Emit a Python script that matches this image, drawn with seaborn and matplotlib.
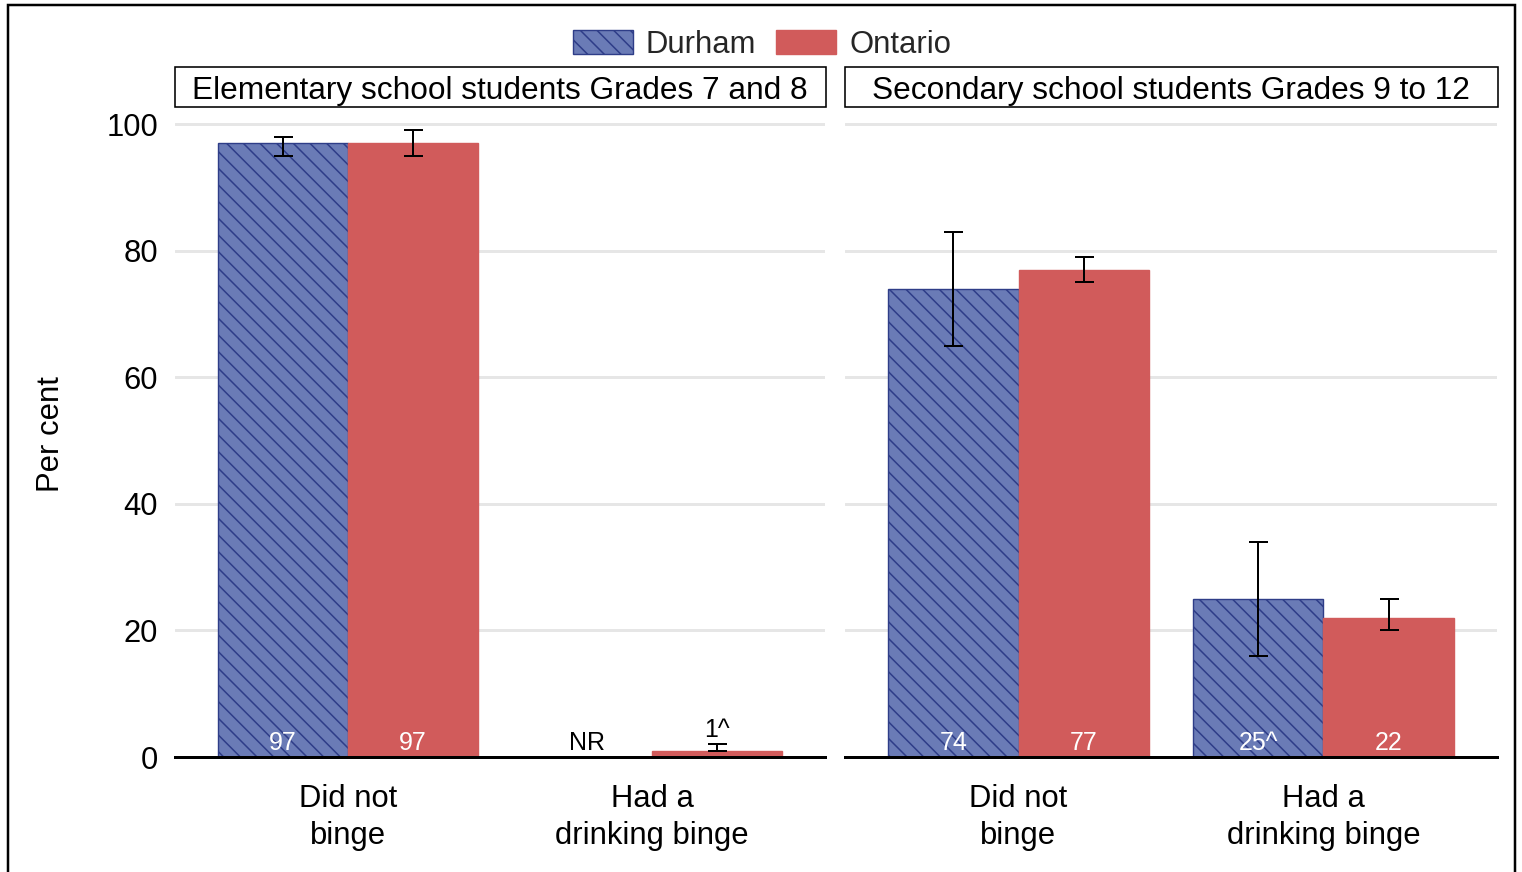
import numpy as np
import pandas as pd
import matplotlib
matplotlib.use("Agg")
import matplotlib.pyplot as plt
import seaborn as sns
from matplotlib.patches import Rectangle, Patch

# ---------------- data ----------------
panels = ["Elementary school students Grades 7 and 8",
          "Secondary school students Grades 9 to 12"]
categories = ["Did not\nbinge", "Had a\ndrinking binge"]
regions = ["Durham", "Ontario"]

elem_durham = [97, np.nan]
elem_ontario = [97, 1]
sec_durham = [74, 25]
sec_ontario = [77, 22]

elem_durham_lo = [95, np.nan]
elem_durham_hi = [98, np.nan]
elem_ontario_lo = [95, 1]
elem_ontario_hi = [99, 2]
sec_durham_lo = [65, 16]
sec_durham_hi = [83, 34]
sec_ontario_lo = [75, 20]
sec_ontario_hi = [79, 25]

elem_durham_labels = ["97", "NR"]
elem_ontario_labels = ["97", "1^"]
sec_durham_labels = ["74", "25^"]
sec_ontario_labels = ["77", "22"]

yticks = [0, 20, 40, 60, 80, 100]

rows = []
series = [
    (panels[0], "Durham", elem_durham, elem_durham_lo, elem_durham_hi, elem_durham_labels),
    (panels[0], "Ontario", elem_ontario, elem_ontario_lo, elem_ontario_hi, elem_ontario_labels),
    (panels[1], "Durham", sec_durham, sec_durham_lo, sec_durham_hi, sec_durham_labels),
    (panels[1], "Ontario", sec_ontario, sec_ontario_lo, sec_ontario_hi, sec_ontario_labels),
]
for p, reg, vals, lo, hi, labs in series:
    for c, v, l, h, t in zip(categories, vals, lo, hi, labs):
        rows.append(dict(panel=p, category=c, region=reg, value=v, lo=l, hi=h, label=t))
df = pd.DataFrame(rows)

# ---------------- style ----------------
sns.set_theme(style="white")
plt.rcParams['font.family'] = ['Liberation Sans', 'DejaVu Sans']
plt.rcParams['hatch.linewidth'] = 1.1

W, H, DPI = 1522, 872, 100
PT = 72 / DPI  # points per pixel
FS = 31 * PT
FS_T = 31.6 * PT
FS_VAL = 25 * PT

face = {"Durham": "#6A7BB6", "Ontario": "#D15B5B"}
edge = {"Durham": "#2E3D88", "Ontario": "#D15B5B"}
HATCH = "\\\\"

fig = plt.figure(figsize=(W / DPI, H / DPI), dpi=DPI)


def fx(px):
    return px / W


def fy(py):
    return 1 - py / H


y0_px, y100_px = 757, 124
ppu = (y0_px - y100_px) / 100
ymax = 102
ytop_px = y0_px - ymax * ppu
axes_px = [(175, 825), (845, 1497)]

for i, (panel, (l, r)) in enumerate(zip(panels, axes_px)):
    ax = fig.add_axes([fx(l), fy(y0_px), (r - l) / W, (y0_px - ytop_px) / H])
    sub = df[df.panel == panel]
    sns.barplot(data=sub, x="category", y="value", hue="region",
                order=categories, hue_order=regions, palette=face,
                width=0.855, errorbar=None, saturation=1, legend=False,
                gap=0, ax=ax, zorder=2)
    pw = None
    for patch in ax.patches:
        xc = patch.get_x() + patch.get_width() / 2
        if not np.isfinite(patch.get_height()):
            continue
        pw = patch.get_width()
        idx = int(round(xc))
        reg = "Durham" if xc < idx else "Ontario"
        patch.set_edgecolor(edge[reg])
        patch.set_linewidth(1.4 * PT)
        if reg == "Durham":
            patch.set_hatch(HATCH)
    # error bars and labels
    for j, c in enumerate(categories):
        for reg, off in (("Durham", -0.5), ("Ontario", 0.5)):
            row = sub[(sub.category == c) & (sub.region == reg)].iloc[0]
            xc = j + off * pw
            if np.isfinite(row.value):
                ax.errorbar([xc], [row.value],
                            yerr=[[row.value - row.lo], [row.hi - row.value]],
                            fmt="none", ecolor="black", elinewidth=2 * PT,
                            capsize=9.5 * PT, capthick=2 * PT, zorder=4)
            if np.isfinite(row.value) and row.value > 8:
                ax.text(xc, 1.1, row.label, ha="center", va="baseline",
                        color="white", fontsize=FS_VAL, zorder=5)
            elif np.isfinite(row.value):
                ax.text(xc, row.hi + 1.2, row.label, ha="center", va="baseline",
                        color="black", fontsize=FS_VAL, zorder=5)
            else:
                ax.text(xc, 1.1, row.label, ha="center", va="baseline",
                        color="black", fontsize=FS_VAL, zorder=5)

    ax.set_xlim(-0.569, 1.569)
    ax.set_ylim(0, ymax)
    ax.set_yticks(yticks)
    ax.yaxis.grid(True, color="#E6E6E6", lw=3 * PT)
    ax.xaxis.grid(False)
    ax.set_axisbelow(True)
    for s in ("left", "right", "top"):
        ax.spines[s].set_visible(False)
    ax.spines["bottom"].set_color("black")
    ax.spines["bottom"].set_linewidth(3 * PT)
    ax.spines["bottom"].set_zorder(6)
    ax.set_xticks([0, 1])
    ax.set_xticklabels(categories, fontsize=FS, color="black", linespacing=1.32)
    ax.tick_params(axis="both", length=0)
    ax.tick_params(axis="x", pad=27 * PT)
    ax.tick_params(axis="y", pad=17 * PT, labelsize=FS, labelcolor="black")
    ax.set_xlabel("")
    if i == 0:
        ax.set_ylabel("Per cent", fontsize=FS, color="black", labelpad=40 * PT)
    else:
        ax.set_ylabel("")
        ax.tick_params(axis="y", labelleft=False)

    # panel title box
    fig.patches.append(Rectangle((fx(l), fy(107)), (r + 1 - l) / W, (107 - 67) / H,
                                 transform=fig.transFigure, fill=False,
                                 edgecolor="black", lw=1.6 * PT))
    fig.text(fx((l + r) / 2), fy(91), panel, ha="center", va="center",
             fontsize=FS_T, color="black")

# legend
handles = [Patch(facecolor=face["Durham"], edgecolor=edge["Durham"], hatch=HATCH,
                 lw=1.4 * PT, label="Durham"),
           Patch(facecolor=face["Ontario"], edgecolor=edge["Ontario"],
                 lw=1.4 * PT, label="Ontario")]
fig.legend(handles=handles, loc="center", bbox_to_anchor=(fx(762), fy(45)),
           ncol=2, frameon=False, fontsize=FS, handlelength=1.94,
           handleheight=0.8, handletextpad=0.42, columnspacing=0.65,
           borderpad=0, borderaxespad=0)

# outer border
fig.patches.append(Rectangle((fx(8), -0.05), (1515 - 8) / W, fy(5) + 0.05,
                             transform=fig.transFigure, fill=False,
                             edgecolor="black", lw=2.5 * PT))

fig.savefig("out.png", dpi=DPI)
